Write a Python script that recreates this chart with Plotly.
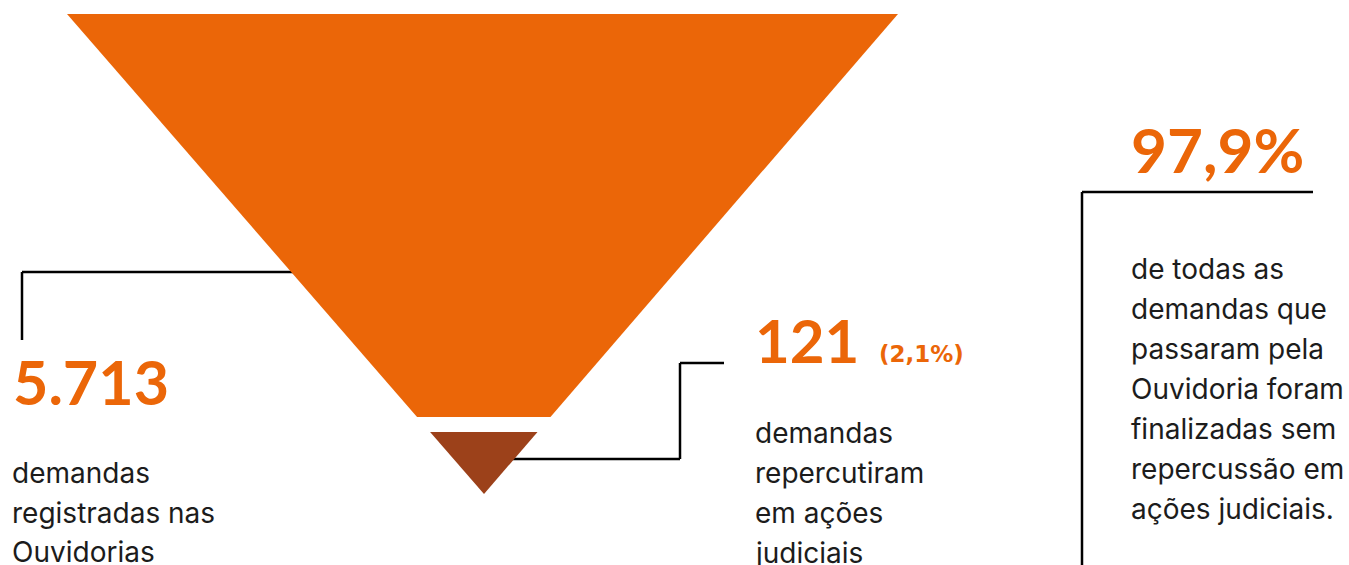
import plotly.graph_objects as go

# --- data ---
total_demands = 5713
judicial_demands = 121
judicial_share_label = "2,1%"
closed_share_label = "97,9%"
judicial_share = 0.021

label_total = ["demandas", "registradas nas", "Ouvidorias"]
label_judicial = ["demandas", "repercutiram", "em ações", "judiciais"]
label_closed = ["de todas as", "demandas que", "passaram pela", "Ouvidoria foram",
                "finalizadas sem", "repercussão em", "ações judiciais."]

# --- layout geometry (pixel-like coordinate system) ---
W, H = 1349, 565
ORANGE = "#EB6608"
BROWN = "#9C411A"
TEXT = "#1c1c1c"

top_y, apex_y = 14, 494
left_x, right_x, apex_x = 67, 898, 484
gap = 15

tri_h = apex_y - top_y
# Split height so the lower triangle's area equals the judicial share
split_y = apex_y - tri_h * judicial_share ** 0.5


def edge_x(y, side):
    t = (y - top_y) / tri_h
    if side == "left":
        return left_x + (apex_x - left_x) * t
    return right_x - (right_x - apex_x) * t


y_or = split_y - gap / 2
y_br = split_y + gap / 2

fig = go.Figure()

# upper (orange) part of the funnel
fig.add_trace(go.Scatter(
    x=[left_x, right_x, edge_x(y_or, "right"), edge_x(y_or, "left"), left_x],
    y=[top_y, top_y, y_or, y_or, top_y],
    fill="toself", fillcolor=ORANGE, mode="lines", line=dict(width=0),
    hoverinfo="skip", showlegend=False,
))
# lower (brown) part of the funnel
fig.add_trace(go.Scatter(
    x=[edge_x(y_br, "left"), edge_x(y_br, "right"), apex_x, edge_x(y_br, "left")],
    y=[y_br, y_br, apex_y, y_br],
    fill="toself", fillcolor=BROWN, mode="lines", line=dict(width=0),
    hoverinfo="skip", showlegend=False,
))

# connector lines (beneath the funnel)
line_style = dict(color="#000000", width=2.5)
connectors = [
    [(22, 340), (22, 272), (edge_x(272, "left") + 10, 272)],
    [(edge_x(459, "right") - 10, 459), (680, 459), (680, 363), (724, 363)],
    [(1082, 565), (1082, 192), (1313, 192)],
]
for pts in connectors:
    for (x0, y0), (x1, y1) in zip(pts[:-1], pts[1:]):
        fig.add_shape(type="line", x0=x0, y0=y0, x1=x1, y1=y1,
                      line=line_style, layer="below", xref="x", yref="y")

BOLD = "Lato"
BODY = "Inter"


def add_text(x, y, text, size, color, family, weight="normal"):
    fig.add_annotation(x=x, y=y, text=text, showarrow=False, xanchor="left",
                       yanchor="middle", xref="x", yref="y",
                       font=dict(size=size, color=color, family=family, weight=weight))


def fmt_int(v):
    return f"{v:,}".replace(",", ".")


# big figures
add_text(11, 381, fmt_int(total_demands), 61, ORANGE, BOLD, "bold")
add_text(753, 340, fmt_int(judicial_demands), 60, ORANGE, BOLD, "bold")
add_text(877, 354, f"({judicial_share_label})", 23, ORANGE, "DejaVu Sans", "bold")
add_text(1129, 149, closed_share_label, 62, ORANGE, BOLD, "bold")

# descriptive text, one annotation per line
for i, t in enumerate(label_total):
    add_text(10, 473 + 39.5 * i, t, 28, TEXT, BODY)
for i, t in enumerate(label_judicial):
    add_text(753, 433 + 40 * i, t, 28, TEXT, BODY)
for i, t in enumerate(label_closed):
    add_text(1129, 269 + 40 * i, t, 28, TEXT, BODY)

fig.update_layout(
    width=W, height=H,
    margin=dict(l=0, r=0, t=0, b=0),
    paper_bgcolor="white", plot_bgcolor="white",
    xaxis=dict(range=[0, W], visible=False, fixedrange=True),
    yaxis=dict(range=[H, 0], visible=False, fixedrange=True),
    showlegend=False,
)

fig.write_html("out.html")
